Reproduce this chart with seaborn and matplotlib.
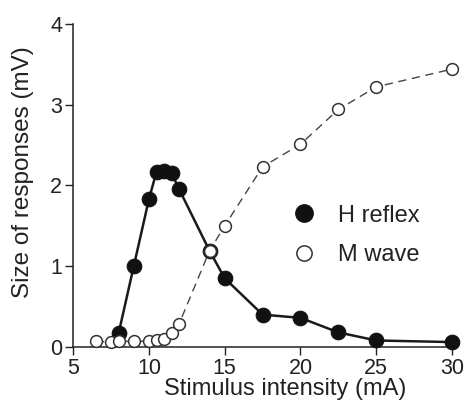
import matplotlib
matplotlib.use("Agg")
import matplotlib.pyplot as plt
from matplotlib.lines import Line2D
import seaborn as sns
import pandas as pd
import numpy as np

# Data
stimulus_mA = [6.5, 7.5, 8, 9, 10, 10.5, 11, 11.5, 12, 14, 15, 17.5, 20, 22.5, 25, 30]
h_reflex_mV = [np.nan, np.nan, 0.17, 1.0, 1.83, 2.17, 2.18, 2.15, 1.95, 1.19, 0.85, 0.40, 0.36, 0.18, 0.08, 0.06]
m_wave_mV = [0.07, 0.06, 0.07, 0.07, 0.07, 0.09, 0.10, 0.17, 0.29, 1.19, 1.50, 2.23, 2.51, 2.94, 3.22, 3.44]
x_ticks = [5, 10, 15, 20, 25, 30]
y_ticks = [0, 1, 2, 3, 4]
series_labels = ["H reflex", "M wave"]

sns.set_style("ticks")
plt.rcParams['font.family'] = ['Liberation Sans', 'DejaVu Sans']

df = pd.DataFrame({"x": stimulus_mA, "H": h_reflex_mV, "M": m_wave_mV})

fig = plt.figure(figsize=(4.66, 4.19), dpi=100)
ax = fig.add_axes([0.157, 0.172, 0.813, 0.771])

sns.lineplot(data=df, x="x", y="H", ax=ax, color="#1a1a1a", linewidth=1.8,
             marker="o", markersize=10.5, markerfacecolor="#111111",
             markeredgecolor="#111111", markeredgewidth=0.8, clip_on=False, zorder=3,
             sort=False)
sns.lineplot(data=df, x="x", y="M", ax=ax, color="#444444", linewidth=1.0,
             dashes=False, linestyle=(0, (6, 4)),
             marker="o", markersize=8.5, markerfacecolor="white",
             markeredgecolor="#333333", markeredgewidth=1.1, clip_on=False, zorder=4,
             sort=False)

ax.set_xlim(5, 30)
ax.set_ylim(0, 4)
ax.set_xticks(x_ticks)
ax.set_yticks(y_ticks)
ax.tick_params(axis="both", direction="out", length=6, width=1.0, labelsize=15.5,
               color="#222222", labelcolor="#222222", pad=2)
for s in ["left", "bottom"]:
    ax.spines[s].set_linewidth(1.1)
    ax.spines[s].set_color("#222222")
sns.despine(ax=ax)

ax.set_xlabel("Stimulus intensity (mA)", fontsize=17, color="#222222")
ax.set_ylabel("Size of responses (mV)", fontsize=17.5, color="#222222")
ax.xaxis.set_label_coords(0.56, -0.095)
ax.yaxis.set_label_coords(-0.103, 0.54)

handles = [
    Line2D([], [], linestyle="none", marker="o", markersize=12.5,
           markerfacecolor="#111111", markeredgecolor="#111111"),
    Line2D([], [], linestyle="none", marker="o", markersize=11,
           markerfacecolor="white", markeredgecolor="#333333", markeredgewidth=1.1),
]
ax.legend(handles, series_labels, loc="center left", bbox_to_anchor=(0.577, 0.345),
          frameon=False, fontsize=17, handlelength=1.0, handletextpad=0.95,
          labelspacing=0.75, borderpad=0, borderaxespad=0, labelcolor="#222222")

fig.savefig("out.png", dpi=100)
